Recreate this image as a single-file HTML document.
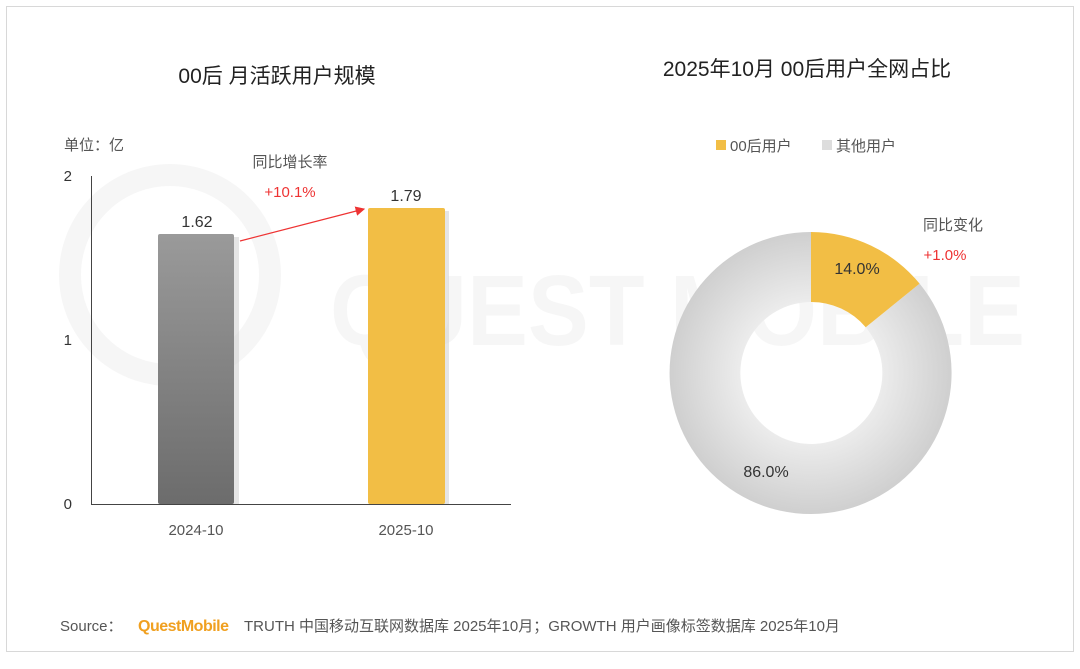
<!DOCTYPE html>
<html><head><meta charset="utf-8"><style>
body{margin:0;width:1080px;height:664px;background:#fff;overflow:hidden;font-family:"Liberation Sans","Noto Sans CJK SC",sans-serif;}
</style></head><body>
<svg width="1080" height="664" xmlns="http://www.w3.org/2000/svg" font-family="Liberation Sans, Noto Sans CJK SC, sans-serif">
<defs>
<linearGradient id="g1" x1="0" y1="0" x2="0" y2="1"><stop offset="0" stop-color="#9a9a9a"/><stop offset="1" stop-color="#6c6c6c"/></linearGradient>
<radialGradient id="rg" cx="811" cy="373" r="141" gradientUnits="userSpaceOnUse"><stop offset="0.5" stop-color="#ececec"/><stop offset="1" stop-color="#cfcfcf"/></radialGradient>
<marker id="ar" markerWidth="8" markerHeight="8" refX="7" refY="4" orient="auto"><path d="M0,0 L8,4 L0,8 z" fill="#ee3333"/></marker>
</defs>
<rect x="6.5" y="6.5" width="1067" height="645" fill="none" stroke="#d8d8d8"/>
<g opacity="0.035" fill="none" stroke="#000" stroke-width="22">
<circle cx="170" cy="275" r="100"/>
</g>
<text x="330" y="345" font-size="100" fill="#000" opacity="0.03" font-weight="bold" textLength="695" lengthAdjust="spacingAndGlyphs">QUEST MOBILE</text>
<text x="277" y="83" font-size="21" text-anchor="middle" fill="#222">00后 月活跃用户规模</text>
<text x="807" y="76" font-size="21" text-anchor="middle" fill="#222">2025年10月 00后用户全网占比</text>
<text x="64" y="150" font-size="15" fill="#555">单位：亿</text>
<text x="72" y="181" font-size="15" fill="#333" text-anchor="end">2</text>
<text x="72" y="345" font-size="15" fill="#333" text-anchor="end">1</text>
<text x="72" y="509" font-size="15" fill="#333" text-anchor="end">0</text>
<line x1="91.5" y1="176" x2="91.5" y2="504" stroke="#444"/>
<line x1="91" y1="504.5" x2="511" y2="504.5" stroke="#444"/>
<rect x="162" y="237" width="77" height="267" fill="#ccc" opacity="0.5"/>
<rect x="158" y="234" width="76" height="270" rx="2" fill="url(#g1)"/>
<rect x="372" y="211" width="77" height="293" fill="#ccc" opacity="0.5"/>
<rect x="368" y="208" width="77" height="296" rx="2" fill="#f2be45"/>
<text x="197" y="227" font-size="16" text-anchor="middle" fill="#333">1.62</text>
<text x="406" y="201" font-size="16" text-anchor="middle" fill="#333">1.79</text>
<line x1="240" y1="241" x2="364" y2="209" stroke="#ee3333" stroke-width="1.2" marker-end="url(#ar)"/>
<text x="290" y="167" font-size="15" text-anchor="middle" fill="#555">同比增长率</text>
<text x="290" y="197" font-size="15" text-anchor="middle" fill="#ee3333">+10.1%</text>
<text x="196" y="535" font-size="15" text-anchor="middle" fill="#555">2024-10</text>
<text x="406" y="535" font-size="15" text-anchor="middle" fill="#555">2025-10</text>
<rect x="716" y="140" width="10" height="10" fill="#f2be45"/>
<text x="730" y="151" font-size="15" fill="#555">00后用户</text>
<rect x="822" y="140" width="10" height="10" fill="#ddd"/>
<text x="836" y="151" font-size="15" fill="#555">其他用户</text>
<path d="M919.6,283.6 A141,141 0 1 1 811,232 L811,302 A71,71 0 1 0 865.7,327.3 Z" fill="url(#rg)"/>
<path d="M811,232 A141,141 0 0 1 919.6,283.6 L865.7,327.3 A71,71 0 0 0 811,302 Z" fill="#f2be45"/>
<text x="857" y="274" font-size="16" text-anchor="middle" fill="#333">14.0%</text>
<text x="766" y="477" font-size="16" text-anchor="middle" fill="#333">86.0%</text>
<text x="953" y="230" font-size="15" text-anchor="middle" fill="#555">同比变化</text>
<text x="945" y="260" font-size="15" text-anchor="middle" fill="#ee3333">+1.0%</text>
<text x="60" y="631" font-size="15" fill="#555">Source：</text>
<text x="138" y="631" font-size="16" fill="#f0a020" font-weight="bold" letter-spacing="-0.5">QuestMobile</text>
<text x="244" y="631" font-size="15" fill="#555">TRUTH 中国移动互联网数据库 2025年10月；GROWTH 用户画像标签数据库 2025年10月</text>
</svg>
</body></html>
